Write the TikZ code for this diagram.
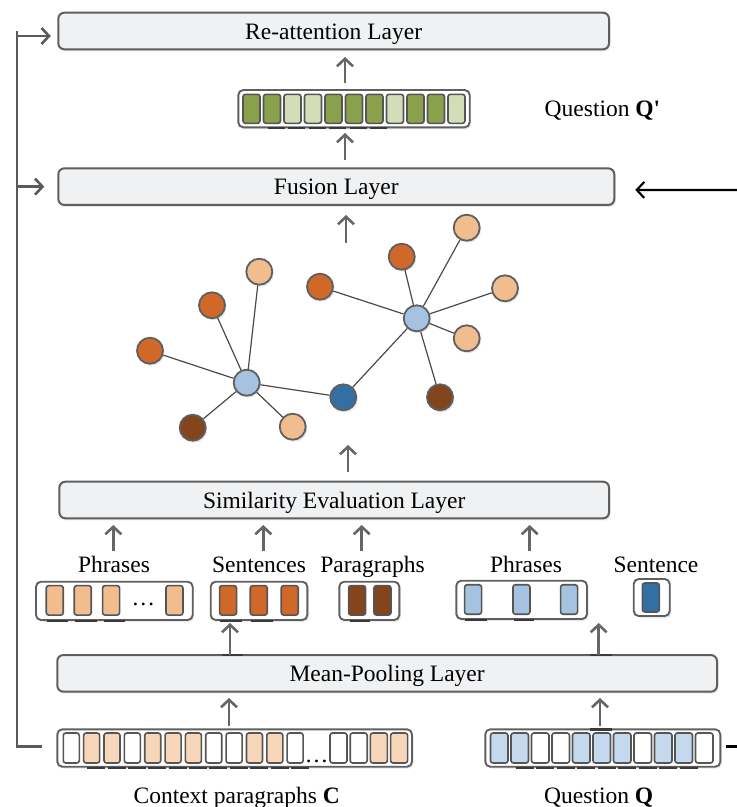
\documentclass[tikz,border=0pt]{standalone}
\usepackage{fontspec}
\setmainfont{Liberation Serif}
\usetikzlibrary{arrows.meta,shadows}
\definecolor{boxfill}{HTML}{F0F1F3}
\definecolor{boxline}{HTML}{5F5F5F}
\definecolor{cellline}{HTML}{555555}
\definecolor{arrgray}{HTML}{666666}
\definecolor{fbgray}{HTML}{5A5A5A}
\definecolor{edgec}{HTML}{4A4A4A}
\definecolor{tickc}{HTML}{3A3A3A}
\definecolor{gdark}{HTML}{8BA04B}
\definecolor{glight}{HTML}{D3DDB7}
\definecolor{ctxor}{HTML}{F8D6B9}
\definecolor{qblue}{HTML}{C4D9EE}
\definecolor{lor}{HTML}{F1BD8F}
\definecolor{mor}{HTML}{D0682A}
\definecolor{brn}{HTML}{84441C}
\definecolor{lbl}{HTML}{A5C3E1}
\definecolor{dbl}{HTML}{326FA3}
\tikzset{
  layerbox/.style={draw=boxline, line width=2pt, fill=boxfill, rounded corners=6pt, inner sep=0pt, minimum height=36.6pt,
    text height=16pt, text depth=0pt,
    drop shadow={opacity=0.18, shadow xshift=1.5pt, shadow yshift=-2pt}},
  vec/.style={draw=boxline, line width=1.9pt, fill=white, rounded corners=5pt, inner sep=0pt,
    drop shadow={opacity=0.18, shadow xshift=1.5pt, shadow yshift=-2pt}},
  cell/.style={draw=cellline, line width=1.6pt, rounded corners=2.5pt, inner sep=0pt, minimum width=17pt, minimum height=29.5pt},
  gn/.style={circle, draw=boxline, line width=1.8pt, inner sep=0pt, minimum size=26pt,
    drop shadow={opacity=0.2, shadow xshift=1.5pt, shadow yshift=-2pt}},
  arr/.style={draw=arrgray, line width=2.6pt, -{Straight Barb[length=7.5pt,width=16pt]}},
  fb/.style={draw=fbgray, line width=2.6pt},
  fbarr/.style={draw=fbgray, line width=2.6pt, -{Straight Barb[length=7.5pt,width=16pt]}},
  glink/.style={draw=edgec, line width=1.2pt},
  undermark/.style={draw=tickc, line width=2pt},
  lbl/.style={anchor=base, inner sep=0pt},
}
\begin{document}
\begin{tikzpicture}[x=1pt,y=-1pt,font=\fontsize{23.5}{27}\selectfont]
\useasboundingbox (0,0) rectangle (737,807);

% ---------- layer boxes ----------
\node[layerbox, minimum width=550.7pt] (reatt) at (333.65,31) {Re-attention Layer};
\node[layerbox, minimum width=556pt] (fusion) at (336.3,186.65) {Fusion Layer};
\node[layerbox, minimum width=549.7pt] (simil) at (334.2,500) {Similarity Evaluation Layer};
\node[layerbox, minimum width=659.7pt] (pool) at (387.15,673.35) {Mean-Pooling Layer};

% ---------- question Q' (green) ----------
\node[vec, minimum width=231.4pt, minimum height=37.3pt] (qp) at (354,108.65) {};
\foreach \k/\c in {1/gdark,2/gdark,3/glight,4/glight,5/gdark,6/gdark,7/gdark,8/glight,9/gdark,10/gdark,11/glight}
  \node[cell, fill=\c, minimum height=29pt] (g\k) at ({251.5+20.5*(\k-1)},108.8) {};
\foreach \k in {2,...,7}
  \draw[undermark] ({247+20.5*(\k-1)},128) -- ++(17,0);
\node[lbl] (qplabel) at (602.5,116.5) {Question \textbf{Q\textquotesingle}};

% ---------- graph ----------
\node[gn, fill=lbl] (h1) at (246.7,382.7) {};
\node[gn, fill=lbl] (h2) at (416.7,318.3) {};
\node[gn, fill=dbl] (m) at (343.3,397.3) {};
\node[gn, fill=lor] (n1) at (259.3,271.7) {};
\node[gn, fill=mor] (n2) at (212,305.3) {};
\node[gn, fill=mor] (n3) at (150,350.7) {};
\node[gn, fill=brn] (n4) at (192.7,427.7) {};
\node[gn, fill=lor] (n5) at (292.7,426.7) {};
\node[gn, fill=mor] (n6) at (320,286.7) {};
\node[gn, fill=mor] (n7) at (401.7,256.7) {};
\node[gn, fill=lor] (n8) at (466.7,227.7) {};
\node[gn, fill=lor] (n9) at (505,288.3) {};
\node[gn, fill=lor] (n10) at (466.7,338.3) {};
\node[gn, fill=brn] (n11) at (440,397.3) {};
\foreach \n in {n1,n2,n3,n4,n5,m} \draw[glink] (h1) -- (\n);
\foreach \n in {n6,n7,n8,n9,n10,n11,m} \draw[glink] (h2) -- (\n);

% ---------- granularity labels ----------
\node[lbl] (lph1) at (114,572.5) {Phrases};
\node[lbl] (lsen) at (259,572.5) {Sentences};
\node[lbl] (lpar) at (372.5,572.5) {Paragraphs};
\node[lbl] (lph2) at (526,572.5) {Phrases};
\node[lbl] (lsq) at (656,572.5) {Sentence};

% ---------- granularity vectors ----------
\node[vec, minimum width=156.7pt, minimum height=38.3pt] (vph1) at (114.35,600.85) {};
\foreach \k/\x in {1/54.75,2/82.75,3/111.05,4/174.45}
  \node[cell, fill=lor] (p\k) at (\x,600.35) {};
\node[lbl] (pdots) at (143.3,605) {\ldots};
\node[vec, minimum width=96.6pt, minimum height=38.3pt] (vsen) at (259,600.85) {};
\foreach \k/\x in {1/228.05,2/258.75,3/289.75}
  \node[cell, fill=mor] (s\k) at (\x,600.35) {};
\node[vec, minimum width=60pt, minimum height=38.3pt] (vpar) at (369.3,600.85) {};
\foreach \k/\x in {1/357.05,2/382.45}
  \node[cell, fill=brn] (r\k) at (\x,600.35) {};
\node[vec, minimum width=130.7pt, minimum height=38.3pt] (vph2) at (521.65,599.85) {};
\foreach \k/\x in {1/473.05,2/521.45,3/569.05}
  \node[cell, fill=lbl] (b\k) at (\x,599.5) {};
\node[vec, minimum width=36pt, minimum height=37pt] (vsq) at (651.7,597.5) {};
\node[cell, fill=dbl, minimum height=29pt] (d1) at (650.85,597.5) {};
\foreach \a/\b in {46.7/68.3,75/96.7,104/125,220/241.7,250.7/272.7,350/370}
  \draw[undermark] (\a,620.5) -- (\b,620.5);
\foreach \a/\b in {465/487,513.7/533.7}
  \draw[undermark] (\a,619.5) -- (\b,619.5);

% ---------- input vectors ----------
\node[vec, minimum width=354.7pt, minimum height=37.4pt] (ctx) at (234.65,748) {};
\foreach \k/\c in {1/white,2/ctxor,3/ctxor,4/white,5/ctxor,6/ctxor,7/ctxor,8/white,9/white,10/ctxor,11/ctxor,12/white}
  \node[cell, fill=\c, minimum width=16pt, minimum height=30pt] (c\k) at ({71.3+20.35*(\k-1)},748) {};
\foreach \k/\x/\c in {13/338.5/white,14/358.7/white,15/378.9/ctxor,16/399.1/ctxor}
  \node[cell, fill=\c, minimum height=30pt] (c\k) at (\x,748) {};
\node[lbl] (cdots) at (316.7,762) {\ldots};
\foreach \k in {2,...,12}
  \draw[undermark] ({67+20.35*(\k-1)},767.5) -- ++(18,0);

\node[vec, minimum width=235pt, minimum height=37.4pt] (q) at (602.8,748) {};
\foreach \k/\c in {1/qblue,2/qblue,3/white,4/white,5/qblue,6/qblue,7/qblue,8/white,9/qblue,10/qblue,11/white}
  \node[cell, fill=\c, minimum width=17.5pt, minimum height=30pt] (qc\k) at ({499.25+20.5*(\k-1)},748) {};
\foreach \k in {2,...,10}
  \draw[undermark] ({495+20.5*(\k-1)},767.5) -- ++(18,0);

\node[lbl] (ctxlabel) at (236.7,803) {Context paragraphs \textbf{C}};
\node[lbl] (qlabel) at (598.7,803) {Question \textbf{Q}};

% ---------- marks on box tops ----------
\draw[undermark, line width=2.4pt] (221.7,655) -- (243.3,655);
\draw[undermark, line width=2.4pt] (590,655) -- (612,655);
\draw[undermark, line width=2.4pt] (590,729.3) -- (612,729.3);

% ---------- vertical arrows ----------
\coordinate (a1s) at (345,83);   \coordinate (a1e) at (345,57);
\coordinate (a2s) at (345,160);  \coordinate (a2e) at (345,133);
\coordinate (a3s) at (346,243);  \coordinate (a3e) at (346,215);
\coordinate (a4s) at (348,472);  \coordinate (a4e) at (348,445);
\draw[arr] (a1s) -- (a1e);
\draw[arr] (a2s) -- (a2e);
\draw[arr] (a3s) -- (a3e);
\draw[arr] (a4s) -- (a4e);
\foreach \x [count=\i] in {113.3,263.3,361.7,529.7} {
  \coordinate (ls\i) at (\x,551);
  \coordinate (le\i) at (\x,525);
  \draw[arr] (ls\i) -- (le\i);
}
\coordinate (m1s) at (230,655);   \coordinate (m1e) at (230,623);
\coordinate (m2s) at (598.7,655); \coordinate (m2e) at (598.7,623);
\draw[arr] (m1s) -- (m1e);
\draw[arr] (m2s) -- (m2e);
\coordinate (i1s) at (229,726);   \coordinate (i1e) at (229,698);
\coordinate (i2s) at (600,726);   \coordinate (i2e) at (600,698);
\draw[arr] (i1s) -- (i1e);
\draw[arr] (i2s) -- (i2e);

% ---------- feedback line on the left ----------
\coordinate (corner) at (17,746.5);
\draw[fb] ([xshift=-14pt,yshift=1.5pt]ctx.west) -- (corner) -- (corner |- reatt.west);
\draw[fbarr] (17,36) -- ([xshift=-6.5pt,yshift=-5pt]reatt.west);
\draw[fbarr] (corner |- fusion.west) -- ([xshift=-13pt]fusion.west);

% ---------- right side (black) ----------
\coordinate (rin) at (737,190);
\draw[black, line width=2.1pt, -{Straight Barb[length=7.5pt,width=16pt]}] (rin) -- ([xshift=20pt,yshift=-3.3pt]fusion.east);
\coordinate (qout) at (737,746.5);
\draw[black, line width=2.2pt] ([xshift=5pt,yshift=1.5pt]q.east) -- (qout);
\end{tikzpicture}
\end{document}
